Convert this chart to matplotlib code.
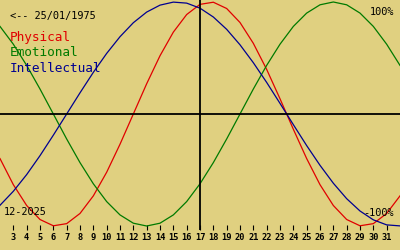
import matplotlib
matplotlib.use("Agg")
import matplotlib.pyplot as plt

# biorhythm values for December 2025 (born 25/01/1975)
days = list(range(2, 33))
physical = [-0.398, -0.631, -0.817, -0.942, -0.998, -0.979, -0.888, -0.731, -0.520, -0.270,
            0.0, 0.270, 0.520, 0.731, 0.888, 0.979, 0.998, 0.942, 0.817, 0.631,
            0.398, 0.136, -0.136, -0.398, -0.631, -0.817, -0.942, -0.998, -0.979, -0.888,
            -0.731]
emotional = [0.782, 0.623, 0.434, 0.223, 0.0, -0.223, -0.434, -0.623, -0.782, -0.901,
             -0.975, -1.0, -0.975, -0.901, -0.782, -0.623, -0.434, -0.223, 0.0, 0.223,
             0.434, 0.623, 0.782, 0.901, 0.975, 1.0, 0.975, 0.901, 0.782, 0.623,
             0.434]
intellectual = [-0.815, -0.690, -0.541, -0.372, -0.189, 0.0, 0.189, 0.372, 0.541, 0.690,
                0.815, 0.910, 0.972, 0.999, 0.990, 0.945, 0.866, 0.756, 0.618, 0.458,
                0.282, 0.095, -0.095, -0.282, -0.458, -0.618, -0.756, -0.866, -0.945, -0.990,
                -0.999]
tick_days = list(range(3, 32))
today = 17

BG = "#e0d080"
RED = "#e00000"
GREEN = "#007a00"
BLUE = "#000090"
FONT = "DejaVu Sans Mono"

fig = plt.figure(figsize=(4, 2.5), dpi=100, facecolor=BG)
ax = fig.add_axes([0, 20 / 250, 1, 230 / 250])
ax.set_facecolor(BG)

ax.plot(days, physical, color=RED, lw=0.9)
ax.plot(days, emotional, color=GREEN, lw=0.9)
ax.plot(days, intellectual, color=BLUE, lw=0.9)
ax.axhline(0, color="black", lw=1.3)
ax.axvline(today, color="black", lw=1.3)

ax.set_xlim(2, 32)
ax.set_ylim(-116 / 112, 114 / 112)
for s in ax.spines.values():
    s.set_visible(False)
ax.set_yticks([])
ax.set_xticks(tick_days)
ax.set_xticklabels([str(d) for d in tick_days], fontfamily=FONT, fontsize=6.2,
                   fontweight="bold")
ax.tick_params(axis="x", direction="in", length=3.6, width=0.8, color="black", pad=2)


def put(x, y, s, color="black", size=7.4, ha="left"):
    fig.text(x / 400, 1 - y / 250, s, color=color, fontsize=size,
             fontfamily=FONT, ha=ha, va="center")


put(10, 16, "<-- 25/01/1975")
put(10, 38, "Physical", RED, 9.2)
put(10, 53, "Emotional", GREEN, 9.2)
put(10, 69, "Intellectual", BLUE, 9.2)
put(394, 12, "100%", ha="right")
put(394, 213, "-100%", ha="right")
put(4, 212, "12-2025")

fig.savefig("out.png", dpi=100, facecolor=BG)
